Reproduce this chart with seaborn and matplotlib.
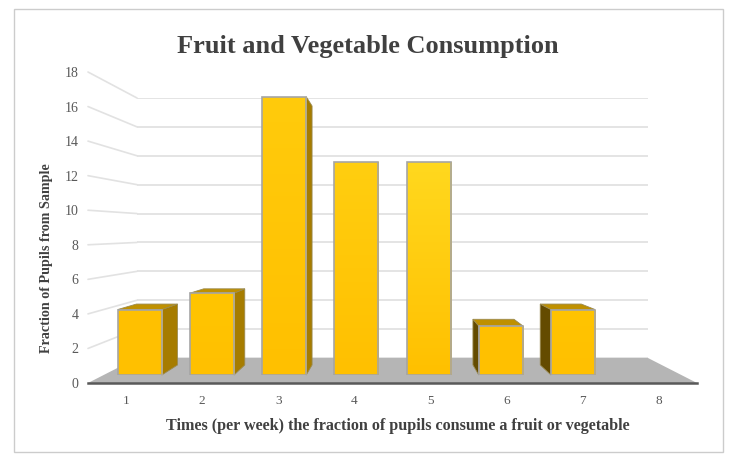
import numpy as np
import matplotlib
matplotlib.use('Agg')
import matplotlib.pyplot as plt
from matplotlib.colors import LinearSegmentedColormap
from matplotlib.lines import Line2D
from matplotlib.patches import Polygon, Rectangle
from matplotlib.transforms import IdentityTransform
import seaborn as sns

times = ['1', '2', '3', '4', '5', '6', '7']
fractions = [4, 5, 17, 13, 13, 3, 4]
x_ticks = ['1', '2', '3', '4', '5', '6', '7', '8']
y_ticks = [0, 2, 4, 6, 8, 10, 12, 14, 16, 18]
title = 'Fruit and Vegetable Consumption'
x_title = 'Times (per week) the fraction of pupils consume a fruit or vegetable'
y_title = 'Fraction of Pupils from Sample'

W, H = 729, 455
BAR_WIDTH = 0.61
GOLD = '#FFC000'
TOPS = ['#FFC100', '#FFC500', '#FFCB0C', '#FFCE10', '#FFD81E', '#FFC100', '#FFC400']

sns.set_theme(style='white')
plt.rcParams['font.family'] = ['Liberation Serif', 'DejaVu Serif']

fig = plt.figure(figsize=(W / 100, H / 100), dpi=100, facecolor='white')
fig.add_artist(Rectangle((13.5 / W, 1 - 451.5 / H), 709 / W, 443 / H, transform=fig.transFigure,
                         facecolor='white', edgecolor='#CCCCCC', linewidth=1.0))


def plane(depth, z):
    # one slice through the 3d box: depth 0 is the front edge, 1 the back wall
    left = 88 + depth * (137 - 88)
    right = 697 - depth * (697 - 648)
    top = 72 + depth * (98 - 72)
    bottom = 383 - depth * (383 - 358)
    ax = fig.add_axes([left / W, 1 - bottom / H, (right - left) / W, (bottom - top) / H], zorder=z)
    ax.set_xlim(-0.5, 7.5)
    ax.set_ylim(0, 18)
    ax.patch.set_alpha(0)
    sns.despine(ax=ax, left=True, bottom=True)
    ax.set_xticks([])
    ax.set_yticks([])
    return ax


ax_front = plane(0, 5)
ax_wall = plane(1, 1)
ax_back = plane(0.72, 2)
ax_bars = plane(0.32, 4)

# back wall
ax_wall.set_yticks(y_ticks)
ax_wall.set_yticklabels([])
ax_wall.tick_params(length=0)
ax_wall.grid(axis='y', color='#E2E2E2', linewidth=1.3)
ax_wall.set_axisbelow(True)


def to_px(ax, x, y):
    return ax.transData.transform((x, y))


# left wall and floor
for v in y_ticks[1:]:
    a = to_px(ax_front, -0.5, v)
    b = to_px(ax_wall, -0.5, v)
    fig.add_artist(Line2D([a[0], b[0]], [a[1], b[1]], transform=IdentityTransform(),
                          color='#E2E2E2', linewidth=1.2))
floor = [to_px(ax_front, -0.5, 0), to_px(ax_wall, -0.5, 0), to_px(ax_wall, 7.5, 0), to_px(ax_front, 7.5, 0)]
ax_wall.add_patch(Polygon(floor, closed=True, transform=IdentityTransform(), facecolor='#B5B5B5',
                          edgecolor='none', clip_on=False, zorder=3))

# bars, back faces first then the seaborn front faces
for i, val in enumerate(fractions):
    l, r = i - BAR_WIDTH / 2, i + BAR_WIDTH / 2
    fl, fr = to_px(ax_bars, l, val), to_px(ax_bars, r, val)
    fl0, fr0 = to_px(ax_bars, l, 0), to_px(ax_bars, r, 0)
    bl, br = to_px(ax_back, l, val), to_px(ax_back, r, val)
    bl0, br0 = to_px(ax_back, l, 0), to_px(ax_back, r, 0)
    faces = []
    if br[0] > fr[0] + 2:
        faces.append(([fr, br, br0, fr0], '#A67C00'))
    if bl[0] < fl[0] - 2:
        faces.append(([fl, bl, bl0, fl0], '#644B00'))
    if bl[1] > fl[1]:
        faces.append(([fl, bl, br, fr], '#BF9000'))
    for pts, c in faces:
        ax_back.add_patch(Polygon(pts, closed=True, transform=IdentityTransform(), facecolor=c,
                                  edgecolor='#9A8A50', linewidth=0.6, clip_on=False))

sns.barplot(x=times, y=fractions, order=times, color=GOLD, width=BAR_WIDTH, ax=ax_bars,
            edgecolor='#A5A5A5', linewidth=1.2, saturation=1)
ax_bars.set_xticks([])
ax_bars.set_yticks([])
ax_bars.set_xlabel('')
ax_bars.set_ylabel('')

# soft vertical shading on the front faces
for patch, top_c in zip(ax_bars.patches, TOPS):
    x0, y0 = patch.get_x(), patch.get_y()
    cmap = LinearSegmentedColormap.from_list('g', [GOLD, top_c])
    img = ax_bars.imshow(np.linspace(1, 0, 64).reshape(-1, 1), cmap=cmap, aspect='auto', vmin=0, vmax=1,
                         extent=[x0, x0 + patch.get_width(), y0, y0 + patch.get_height()], zorder=1)
    img.set_clip_path(patch)
    patch.set_facecolor('none')
    patch.set_zorder(2)
ax_bars.set_xlim(-0.5, 7.5)
ax_bars.set_ylim(0, 18)

# front axis with the tick labels
ax_front.set_xticks(range(8))
ax_front.set_xticklabels(x_ticks)
ax_front.set_yticks(y_ticks)
ax_front.tick_params(axis='x', length=0, pad=8.5, labelsize=9.5, labelcolor='#595959')
ax_front.tick_params(axis='y', length=0, pad=7, labelsize=10, labelcolor='#595959')
ax_front.spines['bottom'].set_visible(True)
ax_front.spines['bottom'].set_color('#595959')
ax_front.spines['bottom'].set_linewidth(1.8)

fig.text(367.5 / W, 1 - 47 / H, title, ha='center', va='center', fontsize=19, fontweight='bold', color='#404040')
fig.text(398 / W, 1 - 426 / H, x_title, ha='center', va='center', fontsize=11.6, fontweight='bold', color='#404040')
fig.text(47 / W, 1 - 258 / H, y_title, ha='center', va='center', rotation=90, fontsize=10.2,
         fontweight='bold', color='#404040')

fig.savefig('out.png', dpi=100, facecolor='white')
